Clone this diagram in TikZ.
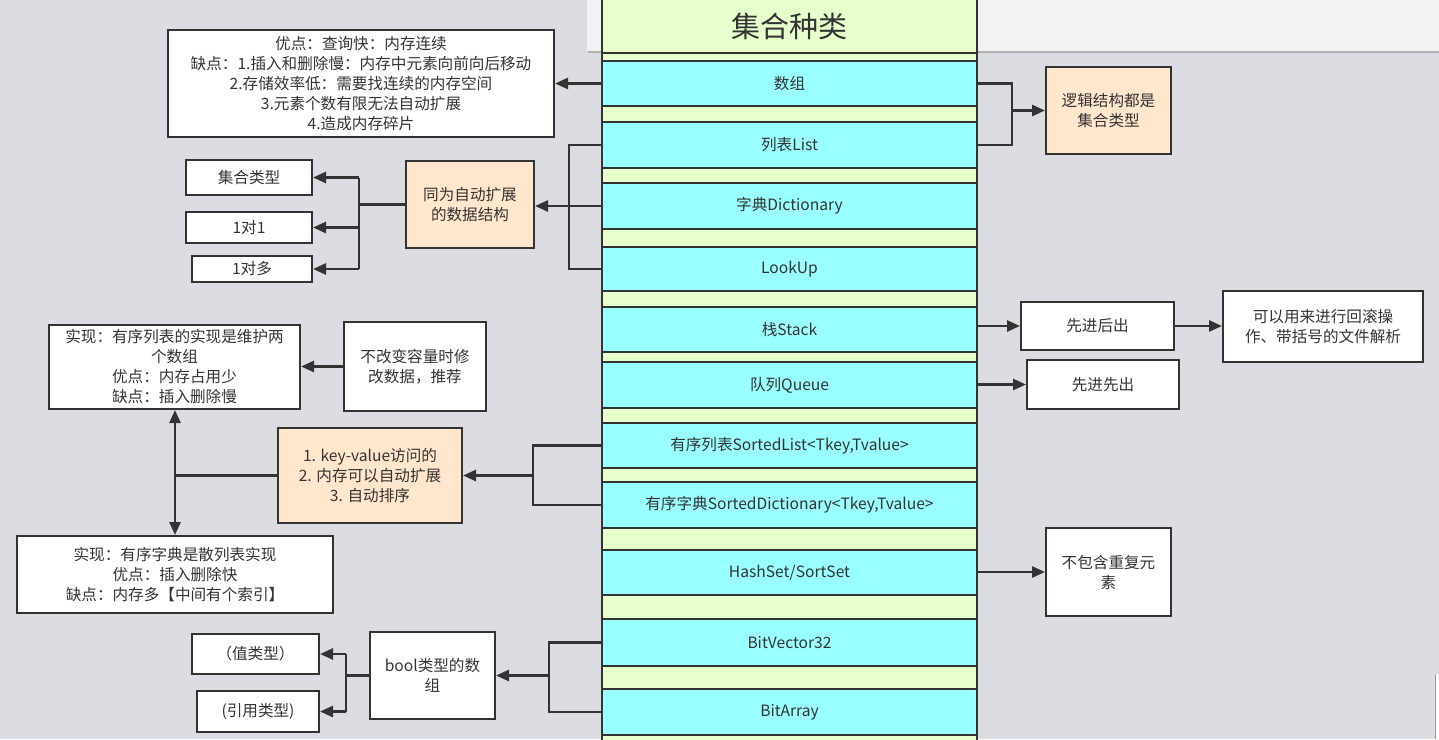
\documentclass[tikz,border=0pt]{standalone}
\usepackage{fontspec}
\newfontfamily\cjk{Noto Sans CJK SC}
\usetikzlibrary{arrows.meta}
\definecolor{bg}{RGB}{220,221,226}
\definecolor{panel}{RGB}{242,242,242}
\definecolor{green}{RGB}{230,255,204}
\definecolor{cyanf}{RGB}{153,255,255}
\definecolor{orangef}{RGB}{255,230,204}
\definecolor{line}{RGB}{51,51,51}
\definecolor{txt}{RGB}{51,51,51}
\tikzset{
  base/.style={draw=line, line width=2pt, inner sep=0pt, align=center, text=txt,
    font=\cjk\fontsize{15.6}{20}\selectfont},
  wbox/.style={base, fill=white},
  obox/.style={base, fill=orangef},
  cbox/.style={base, fill=cyanf, minimum width=375pt},
  conn/.style={draw=line, line width=2.6pt},
  arr/.style={conn, -{Triangle[length=13pt,width=11pt]}},
}
\begin{document}
\begin{tikzpicture}[x=1pt,y=-1pt]
\fill[bg] (0,0) rectangle (1439,739);
\useasboundingbox (0,0) rectangle (1439,739);
% top panel
\fill[black!30] (588,2) rectangle (1439,53);
\fill[panel] (587,0) rectangle (1439,50.5);
% bottom-right scrap
\fill[white] (1435,674) rectangle (1439,739);
\draw[black!40, line width=1pt] (1435,674) -- (1435,739);
% column
\draw[draw=line, line width=2pt, fill=green] (602,-5) rectangle (977,745);
\draw[draw=line, line width=2pt] (602,52.5) -- (977,52.5);
\node[text=txt, font=\cjk\fontsize{29}{30}\selectfont] (title) at (789.5,26) {集合种类};
\node[cbox, minimum height=45pt] (arr)   at (789.5,83.5) {数组};
\node[cbox, minimum height=46pt] (list)  at (789.5,145) {列表List};
\node[cbox, minimum height=46pt] (dict)  at (789.5,206) {字典Dictionary};
\node[cbox, minimum height=44pt] (look)  at (789.5,269) {LookUp};
\node[cbox, minimum height=45pt] (stack) at (789.5,329.5) {栈Stack};
\node[cbox, minimum height=46pt] (queue) at (789.5,385) {队列Queue};
\node[cbox, minimum height=45pt] (slist) at (789.5,445.5) {有序列表SortedList<Tkey,Tvalue>};
\node[cbox, minimum height=46pt] (sdict) at (789.5,505) {有序字典SortedDictionary<Tkey,Tvalue>};
\node[cbox, minimum height=45pt] (hash)  at (789.5,572.5) {HashSet/SortSet};
\node[cbox, minimum height=47pt] (bv)    at (789.5,642.5) {BitVector32};
\node[cbox, minimum height=46pt] (ba)    at (789.5,712) {BitArray};
% left boxes
\node[wbox, minimum width=386pt, minimum height=107pt] (tl) at (361,83.5)
  {优点：查询快：内存连续\\缺点：1.插入和删除慢：内存中元素向前向后移动\\2.存储效率低：需要找连续的内存空间\\3.元素个数有限无法自动扩展\\4.造成内存碎片};
\node[obox, minimum width=128pt, minimum height=87pt] (auto) at (470,204.5) {同为自动扩展\\的数据结构};
\node[wbox, minimum width=126pt, minimum height=35pt] (jhlx) at (249,177.5) {集合类型};
\node[wbox, minimum width=126pt, minimum height=31pt] (one) at (249,227.5) {1对1};
\node[wbox, minimum width=120pt, minimum height=26pt] (many) at (252,269) {1对多};
\node[wbox, minimum width=251pt, minimum height=84pt] (A) at (174.5,367)
  {实现：有序列表的实现是维护两\\个数组\\优点：内存占用少\\缺点：插入删除慢};
\node[wbox, minimum width=142pt, minimum height=89pt] (B) at (415,366.5) {不改变容量时修\\改数据，推荐};
\node[obox, minimum width=184pt, minimum height=95pt] (C) at (370,475.5)
  {1. key-value访问的\\2. 内存可以自动扩展\\3. 自动排序};
\node[wbox, minimum width=316pt, minimum height=77pt] (D) at (175,574.5)
  {实现：有序字典是散列表实现\\优点：插入删除快\\缺点：内存多【中间有个索引】};
\node[wbox, minimum width=127pt, minimum height=40pt] (val) at (255.5,654) {（值类型）};
\node[wbox, minimum width=122pt, minimum height=41pt] (ref) at (258,711.5) {(引用类型)};
\node[wbox, minimum width=125pt, minimum height=87pt] (bool) at (432.5,675.5) {bool类型的数\\组};
% right boxes
\node[obox, minimum width=125pt, minimum height=87pt] (logic) at (1108.5,110.5) {逻辑结构都是\\集合类型};
\node[wbox, minimum width=153pt, minimum height=48pt] (lifo) at (1097.5,326) {先进后出};
\node[wbox, minimum width=200pt, minimum height=71pt] (roll) at (1323,326.5) {可以用来进行回滚操\\作、带括号的文件解析};
\node[wbox, minimum width=152pt, minimum height=49pt] (fifo) at (1103,384.5) {先进先出};
\node[wbox, minimum width=125pt, minimum height=88pt] (nodup) at (1108.5,572) {不包含重复元\\素};
% coordinates for bracket spines
\coordinate (bxL1) at (569,0);
\coordinate (bxL2) at (359,0);
\coordinate (bxL3) at (533,0);
\coordinate (bxL4) at (175,0);
\coordinate (bxL5) at (549,0);
\coordinate (bxL6) at (346,0);
\coordinate (bxR1) at (1012,0);
% connectors left
\draw[arr] (arr.west) -- (arr.west -| tl.east);
\draw[conn] (list.west) -- (list.west -| bxL1) -- (look.west -| bxL1) -- (look.west);
\draw[arr] (dict.west) -- (dict.west -| auto.east);
\draw[conn] (auto.west) -- (auto.west -| bxL2);
\draw[conn] (jhlx.east -| bxL2) -- (many.east -| bxL2);
\draw[arr] (jhlx.east -| bxL2) -- (jhlx.east);
\draw[arr] (one.east -| bxL2) -- (one.east);
\draw[arr] (many.east -| bxL2) -- (many.east);
\draw[arr] (B.west) -- (B.west -| A.east);
\draw[conn] (slist.west) -- (slist.west -| bxL3) -- (sdict.west -| bxL3) -- (sdict.west);
\draw[arr] (C.east -| bxL3) -- (C.east);
\draw[conn] (C.west) -- (C.west -| bxL4);
\draw[arr] (C.west -| bxL4) -- (A.south -| bxL4);
\draw[arr] (C.west -| bxL4) -- (D.north -| bxL4);
\draw[conn] (bv.west) -- (bv.west -| bxL5) -- (ba.west -| bxL5) -- (ba.west);
\draw[arr] (bool.east -| bxL5) -- (bool.east);
\draw[conn] (bool.west) -- (bool.west -| bxL6);
\draw[conn] (val.east -| bxL6) -- (ref.east -| bxL6);
\draw[arr] (val.east -| bxL6) -- (val.east);
\draw[arr] (ref.east -| bxL6) -- (ref.east);
% connectors right
\draw[conn] (arr.east) -- (arr.east -| bxR1) -- (list.east -| bxR1) -- (list.east);
\draw[arr] (logic.west -| bxR1) -- (logic.west);
\draw[arr] (lifo.west -| stack.east) -- (lifo.west);
\draw[arr] (lifo.east) -- (lifo.east -| roll.west);
\draw[arr] (fifo.west -| queue.east) -- (fifo.west);
\draw[arr] (nodup.west -| hash.east) -- (nodup.west);
\end{tikzpicture}
\end{document}
